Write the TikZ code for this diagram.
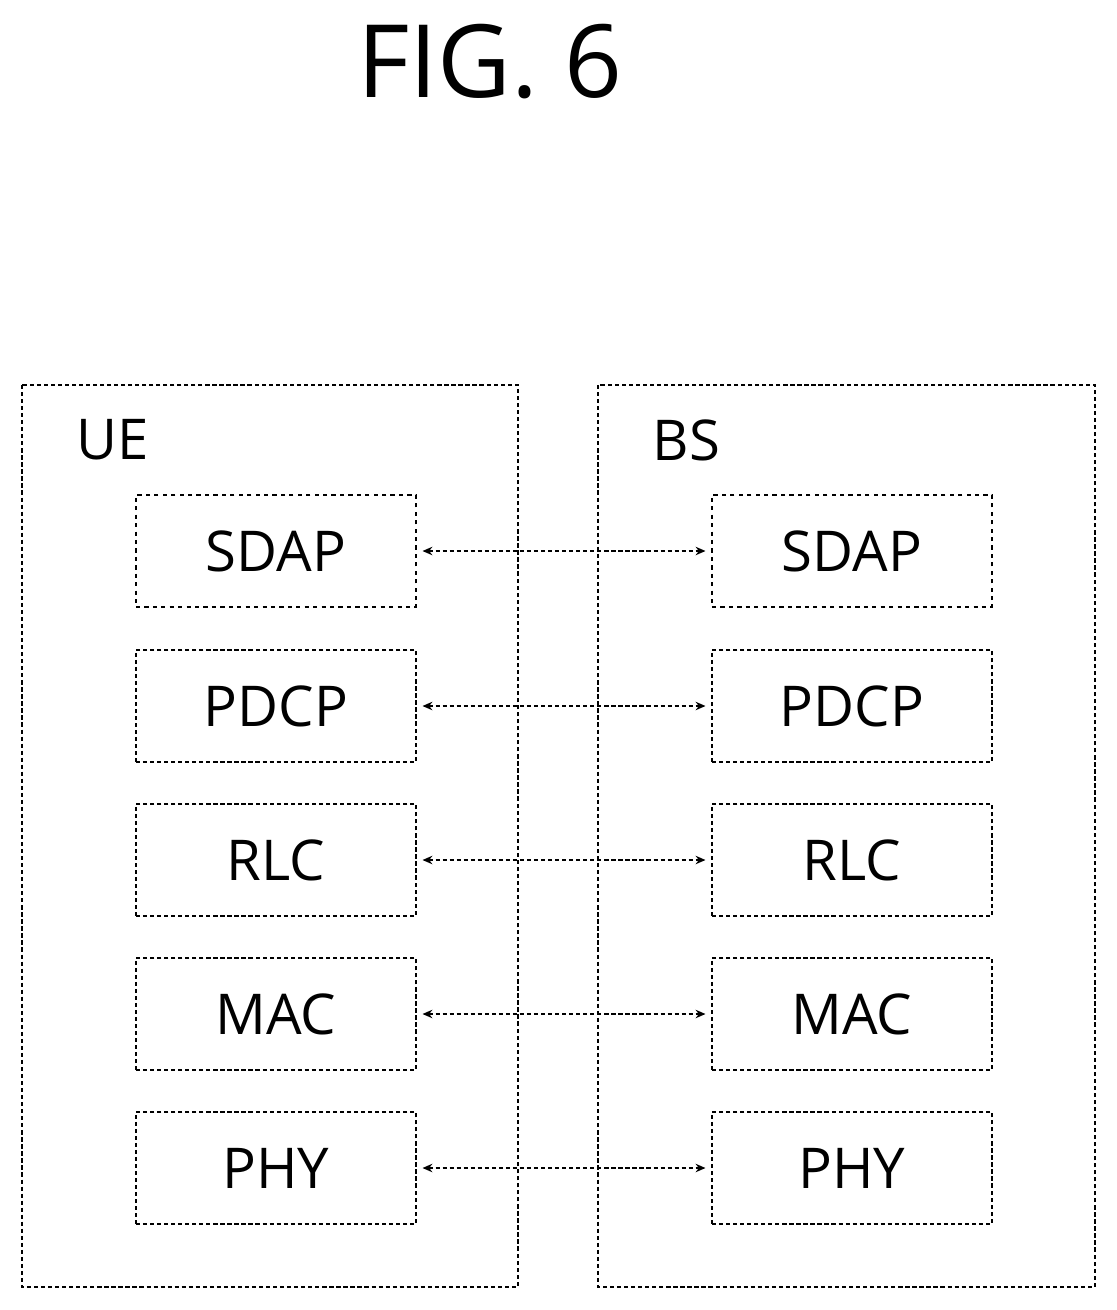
\documentclass[tikz,border=0pt]{standalone}
\usepackage{fontspec}
\setmainfont{Open Sans}
\usetikzlibrary{positioning,arrows}
\tikzset{
  stack/.style={draw=black, densely dashed, line width=1.2pt},
  layer/.style={draw=black, densely dashed, line width=1.2pt, minimum width=7cm, minimum height=2.8cm,
    font=\fontsize{40}{48}\selectfont},
  peer/.style={densely dashed, line width=1.2pt, <->, >=stealth, shorten <=4pt, shorten >=4pt,
    arrows={-{Stealth[length=7pt,width=6pt]}}}
}
\usetikzlibrary{arrows.meta}
\begin{document}
\begin{tikzpicture}[x=0.025cm, y=-0.025cm]
    \useasboundingbox (0,0) rectangle (1117,1310);
    \node[font=\fontsize{72}{80}\selectfont] (title) at (490,62) {FIG. 6};

    \draw[stack] (22,385) rectangle (518,1287);
    \draw[stack] (598,385) rectangle (1095,1287);
    \node[anchor=west, font=\fontsize{40}{48}\selectfont] (ue) at (72,440) {UE};
    \node[anchor=west, font=\fontsize{40}{48}\selectfont] (bs) at (648,440) {BS};

    \foreach \name/\y/\dash in {SDAP/551/dashed, PDCP/706/densely dashed, RLC/860/densely dashed,
                                MAC/1014/densely dashed, PHY/1168/densely dashed} {
      \node[layer, \dash] (u\name) at (276,\y) {\name};
      \node[layer, \dash] (b\name) at (852,\y) {\name};
      \draw[peer, {Stealth[length=7pt,width=6pt]}-{Stealth[length=7pt,width=6pt]}] (u\name) -- (b\name);
    }
\end{tikzpicture}
\end{document}
